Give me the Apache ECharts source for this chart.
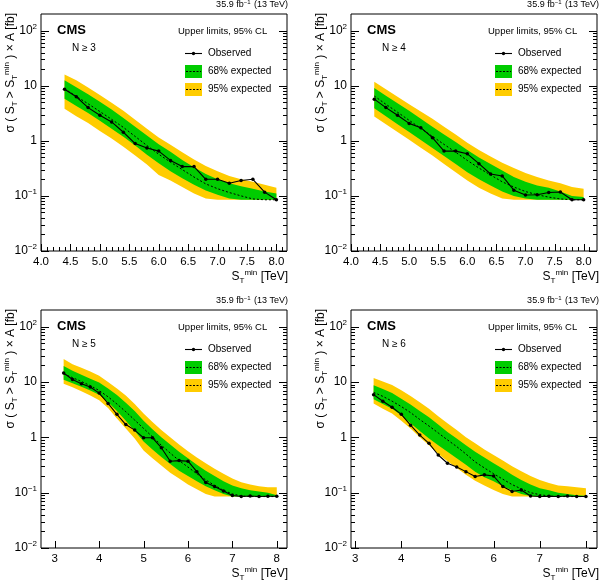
<!DOCTYPE html>
<html>
<head>
<meta charset="utf-8">
<script src="https://cdn.jsdelivr.net/npm/echarts@6/dist/echarts.min.js"></script>
<style>
  html, body { margin: 0; padding: 0; background: #fff; }
  #chart { width: 600px; height: 582px; }
</style>
</head>
<body>
<div id="chart"></div>
<script>
  // S_T^min points (TeV)
  const xN3 = [4.4, 4.6, 4.8, 5.0, 5.2, 5.4, 5.6, 5.8, 6.0, 6.2, 6.4, 6.6, 6.8, 7.0, 7.2, 7.4, 7.6, 7.8, 8.0]
  const xN4 = [4.4, 4.6, 4.8, 5.0, 5.2, 5.4, 5.6, 5.8, 6.0, 6.2, 6.4, 6.6, 6.8, 7.0, 7.2, 7.4, 7.6, 7.8, 8.0]
  const xN5 = [3.2, 3.4, 3.6, 3.8, 4.0, 4.2, 4.4, 4.6, 4.8, 5.0, 5.2, 5.4, 5.6, 5.8, 6.0, 6.2, 6.4, 6.6, 6.8, 7.0, 7.2, 7.4, 7.6, 7.8, 8.0]
  const xN6 = [3.4, 3.6, 3.8, 4.0, 4.2, 4.4, 4.6, 4.8, 5.0, 5.2, 5.4, 5.6, 5.8, 6.0, 6.2, 6.4, 6.6, 6.8, 7.0, 7.2, 7.4, 7.6, 7.8, 8.0]

  // N >= 3
  const obsN3 = [8.6, 6.3, 4.0, 2.9, 2.2, 1.43, 0.89, 0.74, 0.65, 0.44, 0.34, 0.34, 0.20, 0.20, 0.17, 0.19, 0.20, 0.117, 0.085]
  const expN3 = [8.8, 6.4, 4.7, 3.4, 2.45, 1.75, 1.2, 0.82, 0.57, 0.41, 0.3, 0.22, 0.165, 0.135, 0.115, 0.1, 0.088, 0.085, 0.085]
  const hi95N3 = [16, 12.5, 9.3, 6.8, 4.9, 3.5, 2.4, 1.65, 1.15, 0.85, 0.62, 0.46, 0.35, 0.28, 0.23, 0.2, 0.18, 0.16, 0.14]
  const hi68N3 = [12.5, 9.4, 7.0, 5.1, 3.7, 2.6, 1.8, 1.25, 0.87, 0.63, 0.45, 0.33, 0.25, 0.2, 0.17, 0.15, 0.135, 0.12, 0.11]
  const lo68N3 = [5.8, 4.3, 3.2, 2.3, 1.65, 1.18, 0.82, 0.56, 0.39, 0.28, 0.21, 0.16, 0.125, 0.105, 0.09, 0.085, 0.085, 0.085, 0.085]
  const lo95N3 = [3.8, 2.8, 2.1, 1.5, 1.1, 0.78, 0.54, 0.37, 0.24, 0.19, 0.145, 0.11, 0.09, 0.085, 0.085, 0.085, 0.085, 0.085, 0.085]

  // N >= 4
  const obsN4 = [5.7, 4.0, 2.9, 2.07, 1.73, 1.14, 0.65, 0.65, 0.58, 0.385, 0.25, 0.23, 0.127, 0.104, 0.105, 0.115, 0.118, 0.085, 0.085]
  const expN4 = [6.5, 4.6, 3.3, 2.35, 1.68, 1.2, 0.86, 0.62, 0.44, 0.32, 0.24, 0.18, 0.145, 0.12, 0.105, 0.095, 0.088, 0.085, 0.085]
  const hi95N4 = [11.8, 8.6, 6.3, 4.6, 3.4, 2.5, 1.8, 1.3, 0.92, 0.68, 0.52, 0.4, 0.32, 0.26, 0.22, 0.19, 0.17, 0.145, 0.135]
  const hi68N4 = [9.1, 6.6, 4.8, 3.5, 2.5, 1.8, 1.3, 0.95, 0.68, 0.5, 0.38, 0.29, 0.22, 0.18, 0.155, 0.14, 0.12, 0.1, 0.095]
  const lo68N4 = [3.9, 2.8, 2.0, 1.45, 1.03, 0.74, 0.53, 0.38, 0.27, 0.2, 0.155, 0.12, 0.1, 0.09, 0.085, 0.085, 0.085, 0.085, 0.085]
  const lo95N4 = [2.75, 2.0, 1.45, 1.05, 0.75, 0.54, 0.38, 0.27, 0.19, 0.14, 0.11, 0.09, 0.085, 0.085, 0.085, 0.085, 0.085, 0.085, 0.085]

  // N >= 5
  const obsN5 = [14.5, 11.1, 9.3, 8.1, 6.3, 4.1, 2.6, 1.7, 1.35, 0.98, 0.98, 0.65, 0.37, 0.38, 0.37, 0.24, 0.152, 0.129, 0.107, 0.089, 0.085, 0.087, 0.085, 0.086, 0.086]
  const expN5 = [14, 12, 10.2, 8.6, 7.0, 5.4, 4.0, 2.9, 2.05, 1.45, 1.02, 0.72, 0.52, 0.38, 0.29, 0.22, 0.17, 0.135, 0.11, 0.095, 0.087, 0.085, 0.085, 0.085, 0.085]
  const hi95N5 = [26, 21, 18, 15.5, 13, 10, 7.6, 5.7, 4.0, 2.7, 1.9, 1.35, 1.0, 0.74, 0.56, 0.43, 0.34, 0.27, 0.22, 0.18, 0.155, 0.14, 0.13, 0.125, 0.125]
  const hi68N5 = [19.5, 16, 13.5, 11.5, 9.8, 7.6, 5.8, 4.2, 3.0, 2.0, 1.4, 1.0, 0.74, 0.55, 0.42, 0.32, 0.25, 0.2, 0.16, 0.135, 0.12, 0.11, 0.105, 0.1, 0.09]
  const lo68N5 = [11, 9.5, 8.2, 7.0, 5.9, 4.3, 3.0, 2.0, 1.3, 0.84, 0.6, 0.44, 0.33, 0.25, 0.2, 0.16, 0.13, 0.11, 0.095, 0.085, 0.085, 0.085, 0.085, 0.085, 0.085]
  const lo95N5 = [9.3, 8.0, 6.8, 5.7, 4.7, 3.4, 2.2, 1.45, 0.95, 0.58, 0.42, 0.31, 0.23, 0.18, 0.14, 0.115, 0.095, 0.085, 0.085, 0.085, 0.085, 0.085, 0.085, 0.085, 0.085]

  // N >= 6
  const obsN6 = [5.9, 4.5, 3.5, 2.6, 1.66, 1.1, 0.78, 0.48, 0.34, 0.29, 0.24, 0.196, 0.21, 0.2, 0.129, 0.105, 0.112, 0.087, 0.085, 0.086, 0.085, 0.087, 0.085, 0.085]
  const expN6 = [6.5, 5.5, 4.5, 3.6, 2.8, 2.1, 1.6, 1.2, 0.9, 0.68, 0.5, 0.36, 0.28, 0.22, 0.175, 0.14, 0.117, 0.1, 0.092, 0.087, 0.085, 0.085, 0.085, 0.085]
  const hi95N6 = [11.8, 10.2, 8.8, 7.1, 5.6, 4.3, 3.3, 2.4, 1.8, 1.35, 1.0, 0.78, 0.6, 0.48, 0.38, 0.3, 0.245, 0.2, 0.17, 0.15, 0.135, 0.13, 0.125, 0.12]
  const hi68N6 = [8.7, 7.5, 6.3, 5.0, 3.9, 3.0, 2.3, 1.7, 1.25, 0.95, 0.72, 0.55, 0.43, 0.34, 0.27, 0.21, 0.17, 0.14, 0.12, 0.11, 0.1, 0.095, 0.09, 0.088]
  const lo68N6 = [4.9, 4.0, 3.3, 2.5, 1.8, 1.3, 0.95, 0.72, 0.55, 0.42, 0.32, 0.24, 0.19, 0.16, 0.13, 0.11, 0.095, 0.087, 0.085, 0.085, 0.085, 0.085, 0.085, 0.085]
  const lo95N6 = [4.1, 3.3, 2.7, 2.0, 1.45, 1.0, 0.72, 0.5, 0.37, 0.28, 0.21, 0.165, 0.135, 0.112, 0.095, 0.085, 0.085, 0.085, 0.085, 0.085, 0.085, 0.085, 0.085, 0.085]

  // 刻度值
  const xMajorTop = [4.0, 4.5, 5.0, 5.5, 6.0, 6.5, 7.0, 7.5, 8.0]
  const xMinorTop = [4.1, 4.2, 4.3, 4.4, 4.6, 4.7, 4.8, 4.9, 5.1, 5.2, 5.3, 5.4, 5.6, 5.7, 5.8, 5.9,
    6.1, 6.2, 6.3, 6.4, 6.6, 6.7, 6.8, 6.9, 7.1, 7.2, 7.3, 7.4, 7.6, 7.7, 7.8, 7.9, 8.1]
  const xMajorBottom = [3, 4, 5, 6, 7, 8]
  const yMajor = [0.01, 0.1, 1, 10, 100]
  const yMinor = [0.02, 0.03, 0.04, 0.05, 0.06, 0.07, 0.08, 0.09, 0.2, 0.3, 0.4, 0.5, 0.6, 0.7, 0.8, 0.9,
    2, 3, 4, 5, 6, 7, 8, 9, 20, 30, 40, 50, 60, 70, 80, 90]

  const FONT = "'Liberation Sans', Arial, Helvetica, sans-serif"
  const GREEN = '#00cc00'
  const YELLOW = '#ffcc00'
  const Y_MIN = 0.01
  const Y_MAX = 200

  const panels = [
    { label: 'N \u2265 3', x: xN3, obs: obsN3, exp: expN3, hi95: hi95N3, hi68: hi68N3, lo68: lo68N3, lo95: lo95N3,
      left: 41, top: 14, width: 246, height: 237, xMin: 4.0, xMax: 8.18, step: 0.5, xMajor: xMajorTop, xMinor: xMinorTop },
    { label: 'N \u2265 4', x: xN4, obs: obsN4, exp: expN4, hi95: hi95N4, hi68: hi68N4, lo68: lo68N4, lo95: lo95N4,
      left: 351, top: 14, width: 247, height: 237, xMin: 4.0, xMax: 8.23, step: 0.5, xMajor: xMajorTop, xMinor: xMinorTop },
    { label: 'N \u2265 5', x: xN5, obs: obsN5, exp: expN5, hi95: hi95N5, hi68: hi68N5, lo68: lo68N5, lo95: lo95N5,
      left: 41, top: 310, width: 246, height: 238, xMin: 2.69, xMax: 8.23, step: 1, xMajor: xMajorBottom, xMinor: [] },
    { label: 'N \u2265 6', x: xN6, obs: obsN6, exp: expN6, hi95: hi95N6, hi68: hi68N6, lo68: lo68N6, lo95: lo95N6,
      left: 351, top: 310, width: 247, height: 238, xMin: 2.91, xMax: 8.24, step: 1, xMajor: xMajorBottom, xMinor: [] }
  ]

  const svgIcon = (fill) => 'image://data:image/svg+xml;utf8,' + encodeURIComponent(
    '<svg xmlns="http://www.w3.org/2000/svg" width="17" height="13">' +
    '<rect width="17" height="13" fill="' + fill + '"/>' +
    '<line x1="1" y1="6.5" x2="16" y2="6.5" stroke="#000" stroke-width="1" stroke-dasharray="2,1.5"/></svg>')

  const obsIcon = 'image://data:image/svg+xml;utf8,' + encodeURIComponent(
    '<svg xmlns="http://www.w3.org/2000/svg" width="17" height="13">' +
    '<line x1="0" y1="6.5" x2="17" y2="6.5" stroke="#000" stroke-width="1.1"/>' +
    '<circle cx="8.5" cy="6.5" r="1.7" fill="#000"/></svg>')

  const supRich = {
    sup: { fontSize: 8, fontFamily: FONT, color: '#000', padding: [0, 0, 8, 0] },
    sub: { fontSize: 8, fontFamily: FONT, color: '#000', padding: [7, 0, 0, 0] },
    t: { fontSize: 12, fontFamily: FONT, color: '#000' }
  }

  // 带状区域（custom 多边形）
  function band(name, xs, lo, hi, color, idx) {
    return {
      name: name,
      type: 'custom',
      xAxisIndex: idx,
      yAxisIndex: idx * 2,
      silent: true,
      clip: true,
      itemStyle: { color: color },
      encode: { x: 0, y: [1, 2] },
      data: xs.map((x, i) => [x, lo[i], hi[i]]),
      renderItem: function (params, api) {
        if (params.dataIndex !== 0) return null
        const pts = []
        for (let i = 0; i < xs.length; i++) pts.push(api.coord([xs[i], hi[i]]))
        for (let i = xs.length - 1; i >= 0; i--) pts.push(api.coord([xs[i], lo[i]]))
        return { type: 'polygon', shape: { points: pts }, style: { fill: color } }
      }
    }
  }

  // ROOT 风格的内向刻度（主/副），用坐标轴的比例尺定位
  function ticks(p, idx) {
    const data = []
    p.xMajor.forEach(v => data.push([0, v, 1]))
    p.xMinor.forEach(v => data.push([0, v, 0]))
    yMajor.forEach(v => data.push([1, v, 1]))
    yMinor.forEach(v => data.push([1, v, 0]))
    return {
      name: 'ticks',
      type: 'custom',
      xAxisIndex: idx,
      yAxisIndex: idx * 2,
      silent: true,
      clip: false,
      z: 10,
      encode: { x: 0, y: 1 },
      data: data,
      renderItem: function (params, api) {
        const kind = api.value(0), v = api.value(1), major = api.value(2) === 1
        const st = { stroke: '#000', lineWidth: 1 }
        if (kind === 0) {
          const pt = api.coord([v, Y_MIN])
          const x = Math.round(pt[0]) + 0.5
          const len = major ? 7 : 4
          return { type: 'line', shape: { x1: x, y1: pt[1], x2: x, y2: pt[1] - len }, style: st }
        }
        const a = api.coord([p.xMin, v]), b = api.coord([p.xMax, v])
        const y = Math.round(a[1]) + 0.5
        const len = major ? 8 : 4
        return {
          type: 'group',
          children: [
            { type: 'line', shape: { x1: a[0], y1: y, x2: a[0] + len, y2: y }, style: st },
            { type: 'line', shape: { x1: b[0], y1: y, x2: b[0] - len, y2: y }, style: st }
          ]
        }
      }
    }
  }

  function makeY(idx, pos) {
    return {
      gridIndex: idx,
      type: 'log',
      min: Y_MIN,
      max: Y_MAX,
      position: pos,
      splitLine: { show: false },
      axisLine: { show: false },
      axisTick: { show: false },
      axisLabel: pos === 'right' ? { show: false } : {
        fontSize: 12, fontFamily: FONT, color: '#000', margin: 4,
        rich: { sup: { fontSize: 8, fontFamily: FONT, color: '#000', padding: [0, 0, 8, 0] } },
        formatter: (v) => {
          const lg = Math.log10(v)
          const e = Math.round(lg)
          if (Math.abs(lg - e) > 1e-6) return ''
          if (e === 0) return '1'
          if (e === 1) return '10'
          return '10{sup|' + (e < 0 ? '\u2212' + (-e) : e) + '}'
        }
      }
    }
  }

  const grid = [], xAxis = [], yAxis = [], series = [], legend = [], graphic = []

  panels.forEach((p, idx) => {
    grid.push({
      left: p.left, top: p.top, width: p.width, height: p.height,
      show: true, borderColor: '#000', borderWidth: 1
    })

    const xa = {
      gridIndex: idx,
      type: 'value',
      min: p.xMin,
      max: p.xMax,
      splitLine: { show: false },
      axisLine: { show: false },
      axisTick: { show: false },
      axisLabel: {
        fontSize: 11.5, fontFamily: FONT, color: '#000', margin: 5,
        formatter: (v) => {
          const k = v / p.step
          if (Math.abs(k - Math.round(k)) > 1e-6) return ''
          return p.step === 0.5 ? v.toFixed(1) : String(Math.round(v))
        }
      }
    }
    if (p.step === 0.5) xa.interval = 0.5
    else xa.splitNumber = 5
    xAxis.push(xa)

    yAxis.push(makeY(idx, 'left'))
    yAxis.push(makeY(idx, 'right'))

    series.push(band('95% expected', p.x, p.lo95, p.hi95, YELLOW, idx))
    series.push(band('68% expected', p.x, p.lo68, p.hi68, GREEN, idx))
    series.push({
      name: 'Expected',
      type: 'line',
      xAxisIndex: idx,
      yAxisIndex: idx * 2,
      data: p.x.map((x, i) => [x, p.exp[i]]),
      symbol: 'none',
      silent: true,
      lineStyle: { color: '#000', width: 1, type: [2, 2] }
    })
    series.push({
      name: 'Observed',
      type: 'line',
      xAxisIndex: idx,
      yAxisIndex: idx * 2,
      data: p.x.map((x, i) => [x, p.obs[i]]),
      symbol: 'circle',
      symbolSize: 3.5,
      silent: true,
      itemStyle: { color: '#000' },
      lineStyle: { color: '#000', width: 1.1 }
    })
    series.push(ticks(p, idx))

    legend.push({
      orient: 'vertical',
      left: p.left + 139,
      top: p.top + 28,
      itemWidth: 17,
      itemHeight: 13,
      itemGap: 5,
      selectedMode: false,
      textStyle: { fontSize: 10, fontFamily: FONT, color: '#000', padding: [0, 0, 0, 1] },
      data: [
        { name: 'Observed', icon: obsIcon },
        { name: '68% expected', icon: svgIcon(GREEN) },
        { name: '95% expected', icon: svgIcon(YELLOW) }
      ]
    })

    const right = p.left + p.width
    graphic.push(
      { type: 'text', x: right + 1, y: p.top - 9,
        style: { text: '35.9 fb{sup|\u22121} (13 TeV)', align: 'right', verticalAlign: 'middle',
          font: '9px ' + FONT, fill: '#000',
          rich: { sup: { fontSize: 6, fontFamily: FONT, padding: [0, 1, 5, 0] } } } },
      { type: 'text', x: p.left + 16, y: p.top + 16,
        style: { text: 'CMS', verticalAlign: 'middle', font: 'bold 13px ' + FONT, fill: '#000' } },
      { type: 'text', x: p.left + 31, y: p.top + 34,
        style: { text: p.label, verticalAlign: 'middle', font: '10px ' + FONT, fill: '#000' } },
      { type: 'text', x: p.left + 137, y: p.top + 17,
        style: { text: 'Upper limits, 95% CL', verticalAlign: 'middle', font: '9.5px ' + FONT, fill: '#000' } },
      { type: 'text', x: right + 1, y: p.top + p.height + 26,
        style: { text: '{t|S}{sub|T}{sup|min}{t| [TeV]}', align: 'right', verticalAlign: 'middle', rich: supRich } },
      { type: 'text', x: p.left - 30, y: p.top - 1, rotation: Math.PI / 2,
        style: { text: '{t|\u03c3 ( S}{sub|T}{t| > S}{sub|T}{sup|min}{t| ) \u00d7 A [fb]}',
          align: 'right', verticalAlign: 'middle', rich: supRich } }
    )
  })

  const chart = echarts.init(document.getElementById('chart'))
  chart.setOption({
    backgroundColor: '#fff',
    animation: false,
    grid: grid,
    xAxis: xAxis,
    yAxis: yAxis,
    legend: legend,
    graphic: graphic,
    series: series
  })
</script>
</body>
</html>
